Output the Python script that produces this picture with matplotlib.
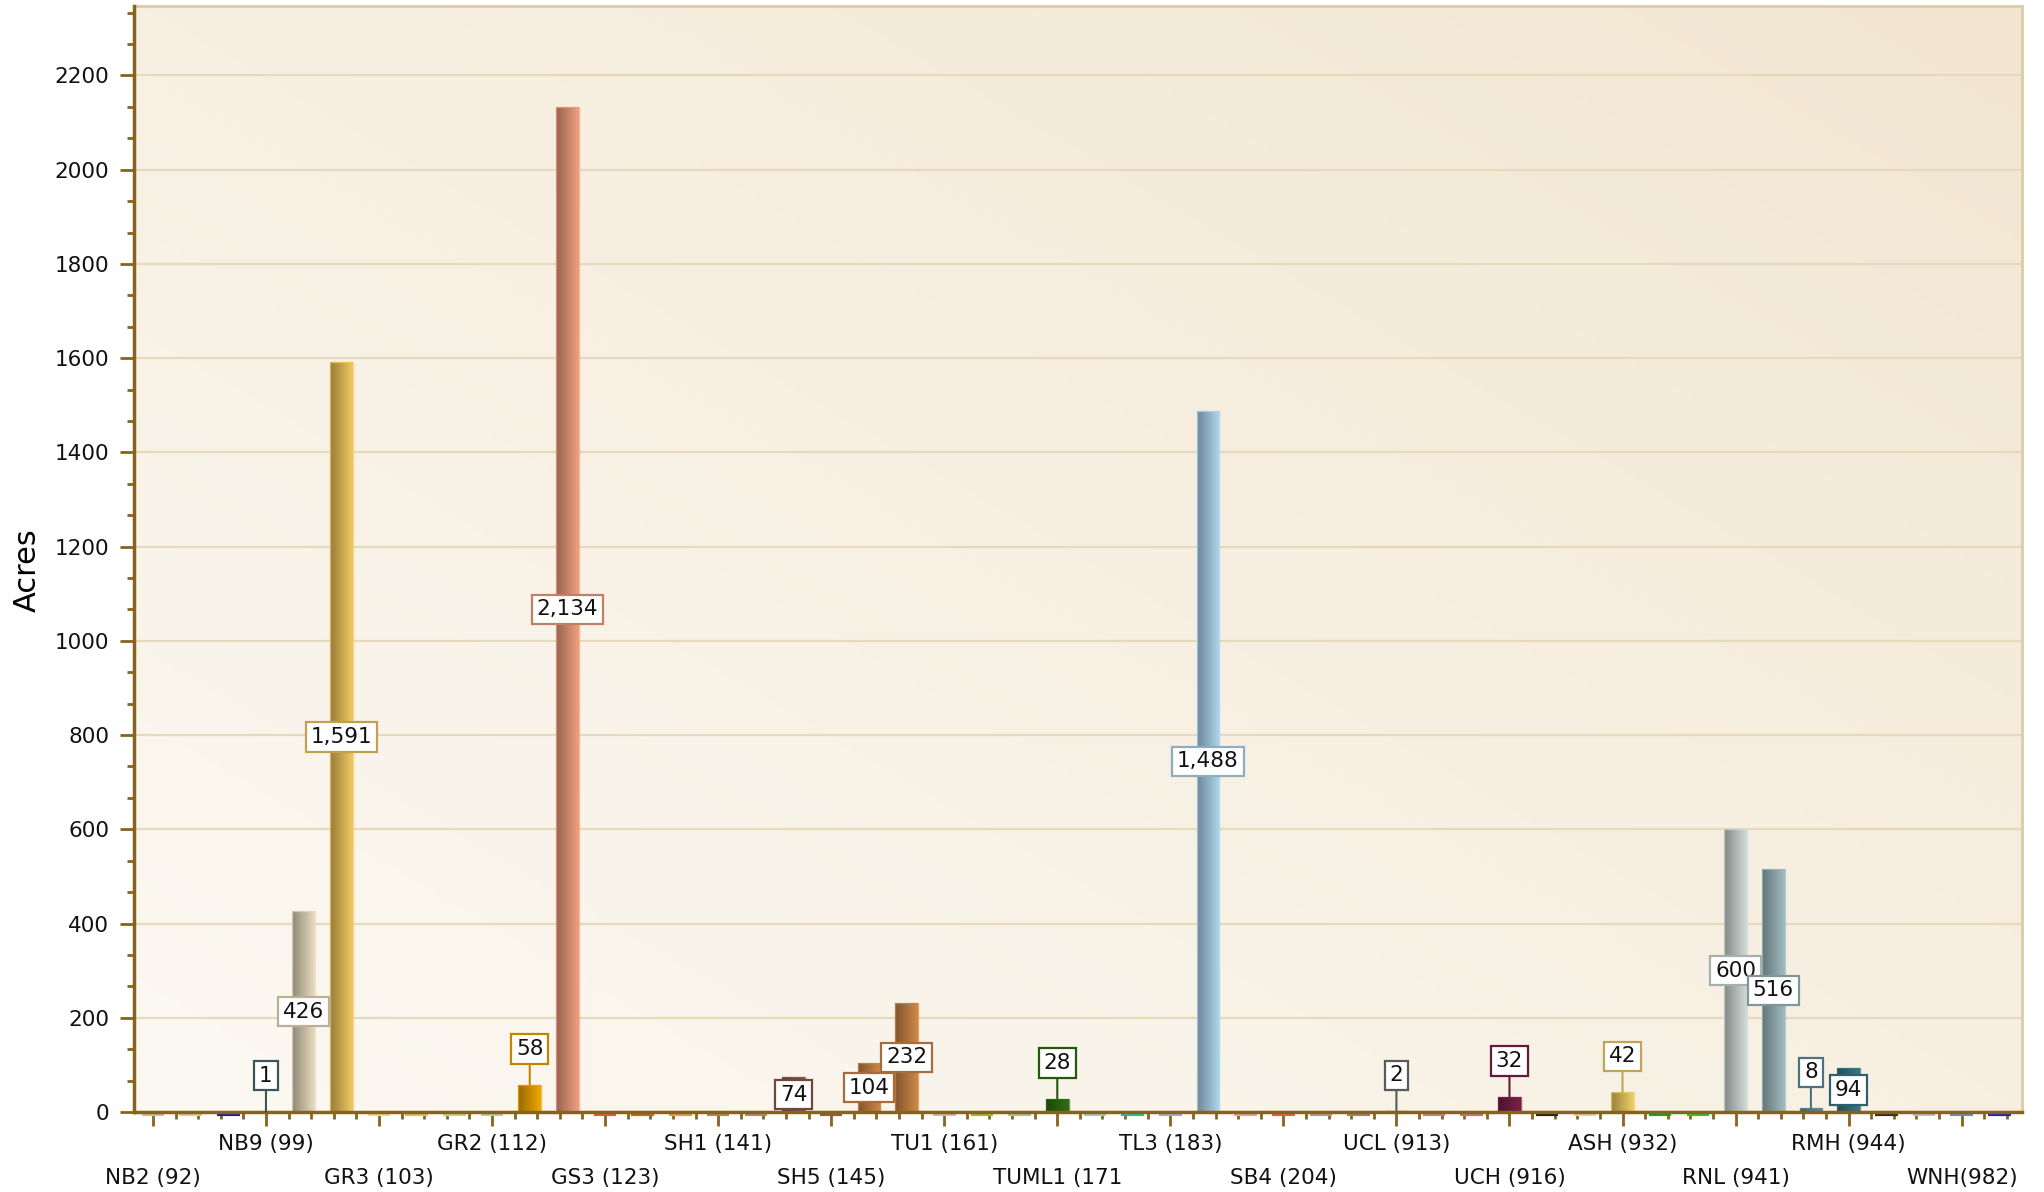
import numpy as np
import matplotlib
matplotlib.use("Agg")
import matplotlib.pyplot as plt
from matplotlib.colors import to_rgb

# one entry per fuel model on the axis (50 slots), labels on every third slot
tick_labels = ["NB2 (92)", "NB9 (99)", "GR3 (103)", "GR2 (112)", "GS3 (123)",
               "SH1 (141)", "SH5 (145)", "TU1 (161)", "TUML1 (171", "TL3 (183)",
               "SB4 (204)", "UCL (913)", "UCH (916)", "ASH (932)", "RNL (941)",
               "RMH (944)", "WNH(982)"]

acres = [0, 0, 0, 1, 426, 1591, 0, 0, 0, 0,
         58, 2134, 0, 0, 0, 0, 0, 74, 0, 104,
         232, 0, 0, 0, 28, 0, 0, 0, 1488, 0,
         0, 0, 0, 2, 0, 0, 32, 0, 0, 42,
         0, 0, 600, 516, 8, 94, 0, 0, 0, 0]

bar_colors = ['#C8C0A8', '#D8CCA8', '#202090', '#4A6A70', '#E8DCC0',
              '#F2C860', '#E8DC98', '#D8C850', '#C8D0A0', '#B8D0A0',
              '#F0A800', '#F0A080', '#E06020', '#C86420', '#E0A040',
              '#A88860', '#A09080', '#8A5A48', '#8A6040', '#D08848',
              '#D08848', '#C8C0B0', '#A0C020', '#A0C8A0', '#2E7012',
              '#A8C8C0', '#20C0A0', '#B0A8C8', '#B0D8F0', '#E0A8A8',
              '#E06050', '#A8A098', '#908878', '#707070', '#B08898',
              '#B87888', '#7A2048', '#202020', '#D8D0C0', '#F0D068',
              '#20A020', '#40C020', '#D0DCD8', '#A0BCC0', '#6090A0',
              '#3A7888', '#303020', '#C0C0C8', '#7090A8', '#2020C0']

axis_brown = '#86631F'
n = len(acres)
idx = np.arange(n)

fig = plt.figure(figsize=(20.44, 11.92), dpi=100)
ax = fig.add_axes([0.0656, 0.0671, 0.9236, 0.9281])

# background gradient, light top-left to tan bottom-right
gx, gy = np.meshgrid(np.linspace(0, 1, 200), np.linspace(0, 1, 200))
t = (gx + (1 - gy)) / 2
c0 = np.array(to_rgb('#FCF9F3'))
c1 = np.array(to_rgb('#F2E6D1'))
bg = c0[None, None, :] * (1 - t[..., None]) + c1[None, None, :] * t[..., None]
ax.imshow(bg, extent=[0, 1, 0, 1], transform=ax.transAxes, aspect='auto',
          zorder=0, origin='upper')

# bars with a left-dark / right-light gradient
bars = ax.bar(idx, acres, width=0.6, color=bar_colors, zorder=2)
for i, (b, v, c) in enumerate(zip(bars, acres, bar_colors)):
    light = np.array(to_rgb(c))
    dark = light * 0.62
    if v <= 0:
        ax.plot([i - 0.3, i + 0.3], [-5, -5], color=c, lw=3,
                clip_on=False, zorder=1.5, solid_capstyle='butt')
        continue
    s = np.linspace(0, 1, 64)[None, :, None]
    grad = dark[None, None, :] * (1 - s) + light[None, None, :] * s
    im = ax.imshow(grad, extent=[i - 0.3, i + 0.3, 0, v], aspect='auto',
                   zorder=2.1, interpolation='bilinear')
    im.set_clip_path(b)
    ax.bar(i, v, width=0.6, facecolor='none', edgecolor=light, alpha=0.7,
           lw=1, zorder=2.2)

# value labels
for i, (v, c) in enumerate(zip(acres, bar_colors)):
    if v <= 0:
        continue
    light = np.array(to_rgb(c))
    edge = light * 0.8
    box = dict(boxstyle='square,pad=0.22', fc='white', ec=edge, lw=1.6)
    txt = f"{v:,}"
    if v >= 70:
        ax.text(i, v / 2, txt, ha='center', va='center', fontsize=15.5,
                color='#111111', bbox=box, zorder=5)
    else:
        ax.annotate(txt, xy=(i, v), xytext=(i, v + 76), ha='center',
                    va='center', fontsize=15.5, color='#111111', bbox=box,
                    zorder=5,
                    arrowprops=dict(arrowstyle='-', color=edge, lw=1.5,
                                    shrinkA=0, shrinkB=0))

ax.set_xlim(-0.5, 49.6)
ax.set_ylim(0, 2348)

# y axis
ax.set_yticks(np.arange(0, 2201, 200))
ax.set_yticks(np.arange(0, 2348, 200 / 3), minor=True)
ax.yaxis.grid(True, which='major', color='#E6D9BC', lw=1.6)
ax.set_axisbelow(True)
ax.set_ylabel("Acres", fontsize=22)
ax.yaxis.set_label_coords(-0.049, 0.49)

# x axis: major ticks every third slot, minor every 0.6
ax.set_xticks(idx[::3], tick_labels)
ax.set_xticks(np.arange(0, 49.6, 0.6), minor=True)

ax.tick_params(axis='both', which='major', length=10, width=2,
               color=axis_brown, labelsize=15.5, labelcolor='#111111')
ax.tick_params(axis='both', which='minor', length=5, width=2, color=axis_brown)
ax.tick_params(axis='y', which='major', pad=8, labelsize=15.5)
ax.tick_params(axis='x', which='major', pad=6)
for k, tick in enumerate(ax.xaxis.get_major_ticks()):
    if k % 2 == 0:
        tick.set_pad(30)

for side in ['left', 'bottom']:
    ax.spines[side].set_color(axis_brown)
    ax.spines[side].set_linewidth(2.5)
    ax.spines[side].set_zorder(3)
for side in ['top', 'right']:
    ax.spines[side].set_color('#DCCBA6')
    ax.spines[side].set_linewidth(2)

fig.savefig("out.png", dpi=100, facecolor='white')
